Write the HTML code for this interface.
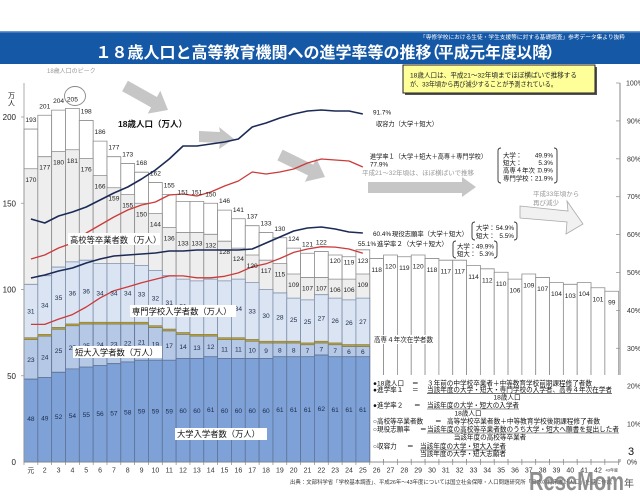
<!DOCTYPE html>
<html><head><meta charset="utf-8">
<style>
html,body{margin:0;padding:0;background:#fff;overflow:hidden;width:640px;height:500px}
svg{display:block}
text{font-family:"Liberation Sans","Noto Sans CJK JP",sans-serif}
.b rect{vector-effect:non-scaling-stroke}
.n{font-size:6.6px;fill:#222;text-anchor:middle}
.nb{font-size:6.6px;fill:#1a2a4a;text-anchor:middle}
.ax{font-size:7px;fill:#333;text-anchor:middle}
.lg{font-size:6.6px;fill:#111}
.an{font-size:6.4px;fill:#111}
.lb{font-size:8.3px;fill:#111}
</style></head><body>
<svg width="640" height="500" viewBox="0 0 640 500" xmlns="http://www.w3.org/2000/svg">
<rect width="640" height="500" fill="#fff"/>
<!-- header -->
<rect x="0" y="31" width="640" height="33" fill="#1558a6"/>
<rect x="0" y="31" width="640" height="1.5" fill="#6a98d0"/>
<text x="420" y="39" font-size="5.4" fill="#fff" textLength="205" lengthAdjust="spacingAndGlyphs">「専修学校における生徒・学生支援等に対する基礎調査」参考データ集より抜粋</text>
<text x="95.5" y="58" font-size="16" font-weight="bold" fill="#fff">１８歳人口と高等教育機関への進学率等の推移</text>
<text x="424" y="58" font-size="16" font-weight="bold" fill="#fff">（</text>
<text x="438" y="58" font-size="16" font-weight="bold" fill="#fff" textLength="110" lengthAdjust="spacingAndGlyphs">平成元年度以降</text>
<text x="546" y="58" font-size="16" font-weight="bold" fill="#fff">）</text>

<!-- bars -->
<g class="b" transform="translate(24,462) scale(13.83,-1.725)">
<g fill="#fff" stroke="#8c8c8c" stroke-width="0.8">
<rect x="0" width="1" height="193"/><rect x="1" width="1" height="201"/><rect x="2" width="1" height="204"/><rect x="3" width="1" height="205"/><rect x="4" width="1" height="198"/><rect x="5" width="1" height="186"/><rect x="6" width="1" height="177"/><rect x="7" width="1" height="173"/><rect x="8" width="1" height="168"/><rect x="9" width="1" height="162"/><rect x="10" width="1" height="155"/><rect x="11" width="1" height="151"/><rect x="12" width="1" height="151"/><rect x="13" width="1" height="150"/><rect x="14" width="1" height="146"/><rect x="15" width="1" height="141"/><rect x="16" width="1" height="137"/><rect x="17" width="1" height="133"/><rect x="18" width="1" height="130"/><rect x="19" width="1" height="124"/><rect x="20" width="1" height="121"/><rect x="21" width="1" height="122"/><rect x="22" width="1" height="120"/><rect x="23" width="1" height="119"/><rect x="24" width="1" height="123"/><rect x="25" width="1" height="118"/><rect x="26" width="1" height="120"/><rect x="27" width="1" height="119"/><rect x="28" width="1" height="120"/><rect x="29" width="1" height="118"/><rect x="30" width="1" height="117"/><rect x="31" width="1" height="117"/><rect x="32" width="1" height="114"/><rect x="33" width="1" height="112"/><rect x="34" width="1" height="110"/><rect x="35" width="1" height="106"/><rect x="36" width="1" height="109"/><rect x="37" width="1" height="107"/><rect x="38" width="1" height="104"/><rect x="39" width="1" height="103"/><rect x="40" width="1" height="104"/><rect x="41" width="1" height="101"/><rect x="42" width="1" height="99"/>
</g>
<g fill="#eeeeee" stroke="#8c8c8c" stroke-width="0.8">
<rect x="0" width="1" height="170"/><rect x="1" width="1" height="177"/><rect x="2" width="1" height="180"/><rect x="3" width="1" height="181"/><rect x="4" width="1" height="176"/><rect x="5" width="1" height="166"/><rect x="6" width="1" height="159"/><rect x="7" width="1" height="155"/><rect x="8" width="1" height="150"/><rect x="9" width="1" height="144"/><rect x="10" width="1" height="136"/><rect x="11" width="1" height="133"/><rect x="12" width="1" height="133"/><rect x="13" width="1" height="132"/><rect x="14" width="1" height="128"/><rect x="15" width="1" height="124"/><rect x="16" width="1" height="120"/><rect x="17" width="1" height="117"/><rect x="18" width="1" height="115"/><rect x="19" width="1" height="109"/><rect x="20" width="1" height="107"/><rect x="21" width="1" height="107"/><rect x="22" width="1" height="106"/><rect x="23" width="1" height="106"/><rect x="24" width="1" height="109"/>
</g>
<g fill="#dae4f2" stroke="#7f8fab" stroke-width="0.8">
<rect x="0" y="72" width="1" height="31"/><rect x="1" y="74" width="1" height="34"/><rect x="2" y="78" width="1" height="35"/><rect x="3" y="80" width="1" height="36"/><rect x="4" y="81" width="1" height="36"/><rect x="5" y="81" width="1" height="34"/><rect x="6" y="81" width="1" height="34"/><rect x="7" y="81" width="1" height="34"/><rect x="8" y="81" width="1" height="33"/><rect x="9" y="79" width="1" height="32"/><rect x="10" y="77" width="1" height="31"/><rect x="11" y="75" width="1" height="31"/><rect x="12" y="74" width="1" height="31"/><rect x="13" y="74" width="1" height="32"/><rect x="14" y="72" width="1" height="33"/><rect x="15" y="72" width="1" height="34"/><rect x="16" y="71" width="1" height="33"/><rect x="17" y="70" width="1" height="30"/><rect x="18" y="70" width="1" height="28"/><rect x="19" y="70" width="1" height="25"/><rect x="20" y="69" width="1" height="25"/><rect x="21" y="70" width="1" height="27"/><rect x="22" y="69" width="1" height="26"/><rect x="23" y="68" width="1" height="26"/><rect x="24" y="68" width="1" height="27"/>
</g>
<g fill="#b5c8e5" stroke="#5f7396" stroke-width="0.8">
<rect x="0" y="48" width="1" height="23"/><rect x="1" y="49" width="1" height="24"/><rect x="2" y="52" width="1" height="25"/><rect x="3" y="54" width="1" height="25"/><rect x="4" y="55" width="1" height="25"/><rect x="5" y="56" width="1" height="24"/><rect x="6" y="57" width="1" height="23"/><rect x="7" y="58" width="1" height="22"/><rect x="8" y="59" width="1" height="21"/><rect x="9" y="59" width="1" height="19"/><rect x="10" y="59" width="1" height="17"/><rect x="11" y="60" width="1" height="14"/><rect x="12" y="60" width="1" height="13"/><rect x="13" y="61" width="1" height="12"/><rect x="14" y="60" width="1" height="11"/><rect x="15" y="60" width="1" height="11"/><rect x="16" y="60" width="1" height="10"/><rect x="17" y="60" width="1" height="9"/><rect x="18" y="61" width="1" height="8"/><rect x="19" y="61" width="1" height="8"/><rect x="20" y="61" width="1" height="7"/><rect x="21" y="62" width="1" height="7"/><rect x="22" y="61" width="1" height="7"/><rect x="23" y="61" width="1" height="6"/><rect x="24" y="61" width="1" height="6"/>
</g>
<g fill="#7ea2d8" stroke="#5f7396" stroke-width="0.8">
<rect x="0" width="1" height="48"/><rect x="1" width="1" height="49"/><rect x="2" width="1" height="52"/><rect x="3" width="1" height="54"/><rect x="4" width="1" height="55"/><rect x="5" width="1" height="56"/><rect x="6" width="1" height="57"/><rect x="7" width="1" height="58"/><rect x="8" width="1" height="59"/><rect x="9" width="1" height="59"/><rect x="10" width="1" height="59"/><rect x="11" width="1" height="60"/><rect x="12" width="1" height="60"/><rect x="13" width="1" height="61"/><rect x="14" width="1" height="60"/><rect x="15" width="1" height="60"/><rect x="16" width="1" height="60"/><rect x="17" width="1" height="60"/><rect x="18" width="1" height="61"/><rect x="19" width="1" height="61"/><rect x="20" width="1" height="61"/><rect x="21" width="1" height="62"/><rect x="22" width="1" height="61"/><rect x="23" width="1" height="61"/><rect x="24" width="1" height="61"/>
</g>
<g fill="#b3a047" stroke="#8d7c2e" stroke-width="0.5">
<rect x="0" y="71" width="1" height="1"/><rect x="1" y="73" width="1" height="1"/><rect x="2" y="77" width="1" height="1"/><rect x="3" y="79" width="1" height="1"/><rect x="4" y="80" width="1" height="1"/><rect x="5" y="80" width="1" height="1"/><rect x="6" y="80" width="1" height="1"/><rect x="7" y="80" width="1" height="1"/><rect x="8" y="80" width="1" height="1"/><rect x="9" y="78" width="1" height="1"/><rect x="10" y="76" width="1" height="1"/><rect x="11" y="74" width="1" height="1"/><rect x="12" y="73" width="1" height="1"/><rect x="13" y="73" width="1" height="1"/><rect x="14" y="71" width="1" height="1"/><rect x="15" y="71" width="1" height="1"/><rect x="16" y="70" width="1" height="1"/><rect x="17" y="69" width="1" height="1"/><rect x="18" y="69" width="1" height="1"/><rect x="19" y="69" width="1" height="1"/><rect x="20" y="68" width="1" height="1"/><rect x="21" y="69" width="1" height="1"/><rect x="22" y="68" width="1" height="1"/><rect x="23" y="67" width="1" height="1"/><rect x="24" y="67" width="1" height="1"/>
</g>
</g>

<!-- axes -->
<line x1="24" y1="83" x2="24" y2="462" stroke="#999" stroke-width="0.8"/>
<g stroke="#999" stroke-width="0.8">
<line x1="21" y1="117" x2="24" y2="117"/><line x1="21" y1="203.25" x2="24" y2="203.25"/><line x1="21" y1="289.5" x2="24" y2="289.5"/><line x1="21" y1="375.75" x2="24" y2="375.75"/>
</g>
<line x1="620" y1="83" x2="620" y2="462" stroke="#b4b4b4" stroke-width="1.6"/>
<g stroke="#999" stroke-width="0.8">
<line x1="616" y1="83" x2="620" y2="83"/><line x1="616" y1="120.9" x2="620" y2="120.9"/><line x1="616" y1="158.8" x2="620" y2="158.8"/><line x1="616" y1="196.7" x2="620" y2="196.7"/><line x1="616" y1="234.6" x2="620" y2="234.6"/><line x1="616" y1="272.5" x2="620" y2="272.5"/><line x1="616" y1="310.4" x2="620" y2="310.4"/><line x1="616" y1="348.3" x2="620" y2="348.3"/><line x1="616" y1="386.2" x2="620" y2="386.2"/><line x1="616" y1="424.1" x2="620" y2="424.1"/>
</g>

<!-- arrows -->
<g fill="#c6c6c6">
<polygon points="127.9,80.8 156.9,97.0 160.3,90.8 168,110 147.7,113.6 151.1,107.4 122.1,91.2"/>
<polygon points="199,131 220,132 219,127 234,139 219,149 220,143 199,142"/>
<polygon points="282.6,149.6 313.2,164.6 316.3,158.3 325,177 304.9,181.7 308.0,175.4 277.4,160.4"/>
<polygon points="368,182 462,182 462,177 476,187 462,197 462,193 368,193"/>
</g>
<polygon points="520,206 568,211 567,201 583,224 566,234 567,222 520,218" fill="#f1f1f1" stroke="#aaa" stroke-width="0.8"/>

<!-- lines -->
<g fill="none" stroke-linejoin="round">
<polyline stroke="#1c2a56" stroke-width="1.6" points="30.92,219 44.75,223 58.58,216 72.41,212 86.24,207 100.07,200 113.90,193 127.73,187 141.56,179 155.39,170 169.22,159 183.05,146 196.88,146 210.71,144 224.54,142 238.37,139 252.20,127 266.03,123 279.86,118 293.69,114 307.52,111 321.35,110 335.18,111 349.01,111 362.84,114"/>
<polyline stroke="#cc3a3a" stroke-width="1.3" points="30.92,259 44.75,255 58.58,248 72.41,243 86.24,233 100.07,225 113.90,217 127.73,210 141.56,205 155.39,202 169.22,195 183.05,194 196.88,196 210.71,192 224.54,186 238.37,181 252.20,172 266.03,174 279.86,172 293.69,169 307.52,163 321.35,159 335.18,160 349.01,161 362.84,167"/>
<polyline stroke="#1c2a56" stroke-width="1.6" points="30.92,278 44.75,275 58.58,271 72.41,268 86.24,263 100.07,259 113.90,256 127.73,255 141.56,254 155.39,253 169.22,251 183.05,251 196.88,250 210.71,250 224.54,250 238.37,250 252.20,249 266.03,243 279.86,237 293.69,231 307.52,228 321.35,227 335.18,229 349.01,232 362.84,233"/>
<polyline stroke="#cc3a3a" stroke-width="1.3" points="30.92,324.4 44.75,324.4 58.58,319.1 72.41,314.6 86.24,307.0 100.07,297.9 113.90,290.7 127.73,286.9 141.56,282.7 155.39,279.3 169.22,275.9 183.05,275.9 196.88,277.8 210.71,277.8 224.54,276.3 238.37,272.9 252.20,266.8 266.03,263.8 279.86,258.5 293.69,252.4 307.52,249.0 321.35,246.7 335.18,247.1 349.01,249.0 362.84,253.2"/>
</g>

<!-- x axis -->
<line x1="24" y1="462" x2="620" y2="462" stroke="#888" stroke-width="0.8"/>

<!-- pop labels -->
<g class="n">
<text x="30.92" y="122.1">193</text><text x="44.75" y="108.3">201</text><text x="58.58" y="103.1">204</text><text x="72.41" y="101.4">205</text><text x="86.24" y="113.4">198</text><text x="100.07" y="134.1">186</text><text x="113.90" y="149.7">177</text><text x="127.73" y="156.6">173</text><text x="141.56" y="165.2">168</text><text x="155.39" y="175.5">162</text><text x="169.22" y="187.6">155</text><text x="183.05" y="194.5">151</text><text x="196.88" y="194.5">151</text><text x="210.71" y="196.3">150</text><text x="224.54" y="203.1">146</text><text x="238.37" y="211.8">141</text><text x="252.20" y="218.7">137</text><text x="266.03" y="225.6">133</text><text x="279.86" y="230.8">130</text><text x="293.69" y="241.1">124</text><text x="307.52" y="246.3">121</text><text x="321.35" y="244.6">122</text><text x="335.18" y="263">120</text><text x="349.01" y="264.7">119</text><text x="362.84" y="263">123</text>
<text x="376.67" y="272">118</text><text x="390.50" y="268.5">120</text><text x="404.33" y="270.2">119</text><text x="418.16" y="268.5">120</text><text x="431.99" y="272">118</text><text x="445.82" y="273.7">117</text><text x="459.65" y="273.7">117</text><text x="473.48" y="278.9">114</text><text x="487.31" y="282.3">112</text><text x="501.14" y="285.8">110</text><text x="514.97" y="292.7">106</text><text x="528.80" y="287.5">109</text><text x="542.63" y="290.9">107</text><text x="556.46" y="296.1">104</text><text x="570.29" y="297.8">103</text><text x="584.12" y="296.1">104</text><text x="597.95" y="301.3">101</text><text x="611.78" y="304.7">99</text>
</g>
<!-- HS labels -->
<g class="n">
<text x="30.92" y="181.8">170</text><text x="44.75" y="169.7">177</text><text x="58.58" y="164.5">180</text><text x="72.41" y="162.8">181</text><text x="86.24" y="171.4">176</text><text x="100.07" y="188.7">166</text><text x="113.90" y="200.7">159</text><text x="127.73" y="207.6">155</text><text x="141.56" y="216.3">150</text><text x="155.39" y="226.6">144</text><text x="169.22" y="240.4">136</text><text x="183.05" y="245.6">133</text><text x="196.88" y="245.6">133</text><text x="210.71" y="247.3">132</text><text x="224.54" y="254.2">128</text><text x="238.37" y="261.1">124</text><text x="252.20" y="268">120</text><text x="266.03" y="273.2">117</text><text x="279.86" y="276.6">115</text><text x="293.69" y="287">109</text><text x="307.52" y="290.4">107</text><text x="321.35" y="290.4">107</text><text x="335.18" y="292.2">106</text><text x="349.01" y="292.2">106</text><text x="362.84" y="287">109</text>
</g>
<!-- senmon labels -->
<g class="nb">
<text x="30.92" y="313.6">31</text><text x="44.75" y="307.5">34</text><text x="58.58" y="299.8">35</text><text x="72.41" y="295.5">36</text><text x="86.24" y="293.7">36</text><text x="100.07" y="295.5">34</text><text x="113.90" y="295.5">34</text><text x="127.73" y="295.5">34</text><text x="141.56" y="296.3">33</text><text x="155.39" y="300.6">32</text><text x="169.22" y="304.9">31</text><text x="183.05" y="308.4">31</text><text x="196.88" y="310.1">31</text><text x="210.71" y="309.3">32</text><text x="224.54" y="311.8">33</text><text x="238.37" y="311">34</text><text x="252.20" y="313.6">33</text><text x="266.03" y="317.9">30</text><text x="279.86" y="319.6">28</text><text x="293.69" y="322.2">25</text><text x="307.52" y="323.9">25</text><text x="321.35" y="320.5">27</text><text x="335.18" y="323.1">26</text><text x="349.01" y="324.8">26</text><text x="362.84" y="323.9">27</text>
</g>
<!-- jc labels -->
<g class="nb">
<text x="30.92" y="361.9">23</text><text x="44.75" y="359.3">24</text><text x="58.58" y="353.2">25</text><text x="72.41" y="349.8">25</text><text x="86.24" y="348.1">25</text><text x="100.07" y="347.2">24</text><text x="113.90" y="346.3">23</text><text x="127.73" y="345.5">22</text><text x="141.56" y="344.6">21</text><text x="155.39" y="346.3">19</text><text x="169.22" y="348.1">17</text><text x="183.05" y="348.9">14</text><text x="196.88" y="349.8">13</text><text x="210.71" y="348.9">12</text><text x="224.54" y="351.5">11</text><text x="238.37" y="351.5">11</text><text x="252.20" y="352.4">10</text><text x="266.03" y="353.2">9</text><text x="279.86" y="352.4">8</text><text x="293.69" y="352.4">8</text><text x="307.52" y="353.2">7</text><text x="321.35" y="351.5">7</text><text x="335.18" y="353.2">7</text><text x="349.01" y="354.1">6</text><text x="362.84" y="354.1">6</text>
</g>
<!-- univ labels -->
<g class="nb">
<text x="30.92" y="421">48</text><text x="44.75" y="420.5">49</text><text x="58.58" y="419">52</text><text x="72.41" y="417.9">54</text><text x="86.24" y="417.1">55</text><text x="100.07" y="416.2">56</text><text x="113.90" y="415.3">57</text><text x="127.73" y="414.5">58</text><text x="141.56" y="413.6">59</text><text x="155.39" y="413.6">59</text><text x="169.22" y="413.6">59</text><text x="183.05" y="412.8">60</text><text x="196.88" y="412.8">60</text><text x="210.71" y="411.9">61</text><text x="224.54" y="412.8">60</text><text x="238.37" y="412.8">60</text><text x="252.20" y="412.8">60</text><text x="266.03" y="412.8">60</text><text x="279.86" y="411.9">61</text><text x="293.69" y="411.9">61</text><text x="307.52" y="411.9">61</text><text x="321.35" y="411">62</text><text x="335.18" y="411.9">61</text><text x="349.01" y="411.9">61</text><text x="362.84" y="411.9">61</text>
</g>

<!-- series labels with white bg -->
<rect x="68" y="233" width="92" height="12" fill="#fff"/>
<text class="lb" x="70" y="243">高校等卒業者数（万人）</text>
<rect x="130" y="305" width="106" height="12" fill="#fff"/>
<text class="lb" x="132" y="314.5">専門学校入学者数（万人）</text>
<rect x="73" y="346" width="89" height="12" fill="#fff"/>
<text class="lb" x="75" y="355.5" font-size="8.5">短大入学者数（万人）</text>
<rect x="175" y="428" width="92" height="12" fill="#fff"/>
<text class="lb" x="177" y="437" font-size="8.8">大学入学者数（万人）</text>
<text x="118" y="127" font-size="8.5" font-weight="bold" fill="#111">18歳人口（万人）</text>
<rect x="372" y="335" width="63" height="9" fill="#fff"/>
<text x="374" y="342" font-size="6.6" fill="#222" textLength="59" lengthAdjust="spacingAndGlyphs">高専４年次在学者数</text>

<!-- peak annotation -->
<text x="47" y="73" font-size="6" fill="#999">18歳人口のピーク</text>
<ellipse cx="75" cy="96" rx="10.5" ry="9.5" fill="none" stroke="#888" stroke-width="0.9"/>

<!-- left axis labels -->
<text x="8" y="98" font-size="7" fill="#222">万</text>
<text x="8" y="105.5" font-size="7" fill="#222">人</text>
<g font-size="8" fill="#222" text-anchor="end">
<text x="16" y="120">200</text><text x="16" y="206.3">150</text><text x="16" y="292.5">100</text><text x="16" y="378.8">50</text><text x="16" y="465">0</text>
</g>
<!-- right axis labels -->
<g font-size="7" fill="#333">
<text x="626" y="85.5">100%</text><text x="627" y="123.4">90%</text><text x="627" y="161.3">80%</text><text x="627" y="199.2">70%</text><text x="627" y="237.1">60%</text><text x="627" y="275">50%</text><text x="627" y="312.9">40%</text><text x="627" y="350.8">30%</text><text x="627" y="388.7">20%</text><text x="627" y="426.6">10%</text><text x="627" y="464.5">0%</text>
</g>

<!-- line annotations -->
<text class="an" x="373" y="114.5">91.7%</text>
<text class="an" x="376" y="126" textLength="62" lengthAdjust="spacingAndGlyphs">収容力（大学＋短大）</text>
<text class="an" x="370" y="158.5" textLength="117" lengthAdjust="spacingAndGlyphs">進学率１（大学＋短大＋高専＋専門学校）</text>
<text class="an" x="370" y="166.5">77.9%</text>
<text class="an" x="362" y="175" fill="#999" style="fill:#999" textLength="112" lengthAdjust="spacingAndGlyphs">平成21～32年頃は、ほぼ横ばいで推移</text>
<text class="an" x="373" y="236">60.4%</text>
<text class="an" x="392" y="236" textLength="76" lengthAdjust="spacingAndGlyphs">現役志願率（大学＋短大）</text>
<text class="an" x="358" y="246">55.1%</text>
<text class="an" x="377" y="246" textLength="71" lengthAdjust="spacingAndGlyphs">進学率２（大学＋短大）</text>
<text x="533" y="196" font-size="6.5" fill="#999">平成33年頃から</text>
<text x="533" y="205" font-size="6.5" fill="#999">再び減少</text>

<!-- brackets -->
<g fill="none" stroke="#333" stroke-width="0.9">
<path d="M501,148 Q498,148 498,151 V180 Q498,183 501,183"/>
<path d="M554,148 Q557,148 557,151 V180 Q557,183 554,183"/>
<path d="M475,222 Q472,222 472,225 V237 Q472,240 475,240"/>
<path d="M514,222 Q517,222 517,225 V237 Q517,240 514,240"/>
<path d="M456,241 Q453,241 453,244 V255 Q453,258 456,258"/>
<path d="M494,241 Q497,241 497,244 V255 Q497,258 494,258"/>
</g>
<g class="an">
<text x="503" y="157.5">大学：</text><text x="553" y="157.5" text-anchor="end">49.9%</text>
<text x="503" y="164.8">短大：</text><text x="553" y="164.8" text-anchor="end">5.3%</text>
<text x="503" y="172.5">高専４年次：</text><text x="553" y="172.5" text-anchor="end">0.9%</text>
<text x="503" y="180.5">専門学校：</text><text x="553" y="180.5" text-anchor="end">21.9%</text>
<text x="476" y="230">大学：</text><text x="514" y="230" text-anchor="end">54.9%</text>
<text x="476" y="238">短大：</text><text x="514" y="238" text-anchor="end">5.5%</text>
<text x="457" y="248.5">大学：</text><text x="494" y="248.5" text-anchor="end">49.9%</text>
<text x="457" y="256">短大：</text><text x="494" y="256" text-anchor="end">5.3%</text>
</g>

<!-- yellow note -->
<rect x="405" y="67" width="192" height="28" fill="#555"/>
<rect x="403" y="65" width="192" height="28" fill="#ffff99" stroke="#222" stroke-width="1"/>
<text x="410" y="77.5" font-size="6.6" fill="#222" textLength="167" lengthAdjust="spacingAndGlyphs">18歳人口は、平成21～32年頃までほぼ横ばいで推移する</text>
<text x="410" y="86.5" font-size="6.6" fill="#222" textLength="147" lengthAdjust="spacingAndGlyphs">が、33年頃から再び減少することが予測されている。</text>

<!-- legend -->
<rect x="371" y="375" width="251" height="84" fill="#fff"/>
<g class="lg">
<text x="373" y="385.5">●18歳人口</text><text x="412" y="385.5">＝</text>
<text x="427" y="385.5" textLength="165" lengthAdjust="spacingAndGlyphs">３年前の中学校卒業者＋中等教育学校前期課程修了者数</text>
<text x="373" y="391.8">●進学率１</text><text x="412" y="391.8">＝</text>
<text x="427" y="391.8" textLength="185" lengthAdjust="spacingAndGlyphs">当該年度の大学・短大・専門学校の入学者、高専４年次在学者</text>
<text x="507" y="399.5" text-anchor="middle">18歳人口</text>
<text x="373" y="407.5">●進学率２</text><text x="414" y="407.5">＝</text>
<text x="427" y="407.5" textLength="92" lengthAdjust="spacingAndGlyphs">当該年度の大学・短大の入学者</text>
<text x="468" y="415.5" text-anchor="middle">18歳人口</text>
<text x="373" y="423.5">○高校等卒業者数</text><text x="435" y="423.5">＝</text>
<text x="447" y="423.5" textLength="153" lengthAdjust="spacingAndGlyphs">高等学校卒業者数＋中等教育学校後期課程修了者数</text>
<text x="373" y="431.5">○現役志願率</text><text x="420" y="431.5">＝</text>
<text x="427" y="431.5" textLength="192" lengthAdjust="spacingAndGlyphs">当該年度の高校等卒業者数のうち大学・短大へ願書を提出した者</text>
<text x="490" y="439.5" text-anchor="middle">当該年度の高校等卒業者</text>
<text x="373" y="448.5">○収容力</text><text x="407" y="448.5">＝</text>
<text x="420" y="448.5" textLength="86" lengthAdjust="spacingAndGlyphs">当該年度の大学・短大入学者</text>
<text x="420" y="455.8" textLength="86" lengthAdjust="spacingAndGlyphs">当該年度の大学・短大志願者</text>
</g>
<g stroke="#222" stroke-width="0.6">
<line x1="427" y1="393.3" x2="612" y2="393.3"/>
<line x1="427" y1="409" x2="519" y2="409"/>
<line x1="427" y1="433" x2="619" y2="433"/>
<line x1="420" y1="450" x2="506" y2="450"/>
</g>

<!-- x ticks -->
<g stroke="#888" stroke-width="0.7">
<line x1="24" y1="462" x2="24" y2="465"/><line x1="37.83" y1="462" x2="37.83" y2="465"/><line x1="51.66" y1="462" x2="51.66" y2="465"/><line x1="65.49" y1="462" x2="65.49" y2="465"/><line x1="79.32" y1="462" x2="79.32" y2="465"/><line x1="93.15" y1="462" x2="93.15" y2="465"/><line x1="106.98" y1="462" x2="106.98" y2="465"/><line x1="120.81" y1="462" x2="120.81" y2="465"/><line x1="134.64" y1="462" x2="134.64" y2="465"/><line x1="148.47" y1="462" x2="148.47" y2="465"/><line x1="162.3" y1="462" x2="162.3" y2="465"/><line x1="176.13" y1="462" x2="176.13" y2="465"/><line x1="189.96" y1="462" x2="189.96" y2="465"/><line x1="203.79" y1="462" x2="203.79" y2="465"/><line x1="217.62" y1="462" x2="217.62" y2="465"/><line x1="231.45" y1="462" x2="231.45" y2="465"/><line x1="245.28" y1="462" x2="245.28" y2="465"/><line x1="259.11" y1="462" x2="259.11" y2="465"/><line x1="272.94" y1="462" x2="272.94" y2="465"/><line x1="286.77" y1="462" x2="286.77" y2="465"/><line x1="300.6" y1="462" x2="300.6" y2="465"/><line x1="314.43" y1="462" x2="314.43" y2="465"/><line x1="328.26" y1="462" x2="328.26" y2="465"/><line x1="342.09" y1="462" x2="342.09" y2="465"/><line x1="355.92" y1="462" x2="355.92" y2="465"/><line x1="369.75" y1="462" x2="369.75" y2="465"/><line x1="383.58" y1="462" x2="383.58" y2="465"/><line x1="397.41" y1="462" x2="397.41" y2="465"/><line x1="411.24" y1="462" x2="411.24" y2="465"/><line x1="425.07" y1="462" x2="425.07" y2="465"/><line x1="438.9" y1="462" x2="438.9" y2="465"/><line x1="452.73" y1="462" x2="452.73" y2="465"/><line x1="466.56" y1="462" x2="466.56" y2="465"/><line x1="480.39" y1="462" x2="480.39" y2="465"/><line x1="494.22" y1="462" x2="494.22" y2="465"/><line x1="508.05" y1="462" x2="508.05" y2="465"/><line x1="521.88" y1="462" x2="521.88" y2="465"/><line x1="535.71" y1="462" x2="535.71" y2="465"/><line x1="549.54" y1="462" x2="549.54" y2="465"/><line x1="563.37" y1="462" x2="563.37" y2="465"/><line x1="577.2" y1="462" x2="577.2" y2="465"/><line x1="591.03" y1="462" x2="591.03" y2="465"/><line x1="604.86" y1="462" x2="604.86" y2="465"/><line x1="618.69" y1="462" x2="618.69" y2="465"/>
</g>
<!-- x labels -->
<g class="ax">
<text x="30.92" y="472.5">元</text><text x="44.75" y="472.5">2</text><text x="58.58" y="472.5">3</text><text x="72.41" y="472.5">4</text><text x="86.24" y="472.5">5</text><text x="100.07" y="472.5">6</text><text x="113.90" y="472.5">7</text><text x="127.73" y="472.5">8</text><text x="141.56" y="472.5">9</text><text x="155.39" y="472.5">10</text><text x="169.22" y="472.5">11</text><text x="183.05" y="472.5">12</text><text x="196.88" y="472.5">13</text><text x="210.71" y="472.5">14</text><text x="224.54" y="472.5">15</text><text x="238.37" y="472.5">16</text><text x="252.20" y="472.5">17</text><text x="266.03" y="472.5">18</text><text x="279.86" y="472.5">19</text><text x="293.69" y="472.5">20</text><text x="307.52" y="472.5">21</text><text x="321.35" y="472.5">22</text><text x="335.18" y="472.5">23</text><text x="349.01" y="472.5">24</text><text x="362.84" y="472.5">25</text><text x="376.67" y="472.5">26</text><text x="390.50" y="472.5">27</text><text x="404.33" y="472.5">28</text><text x="418.16" y="472.5">29</text><text x="431.99" y="472.5">30</text><text x="445.82" y="472.5">31</text><text x="459.65" y="472.5">32</text><text x="473.48" y="472.5">33</text><text x="487.31" y="472.5">34</text><text x="501.14" y="472.5">35</text><text x="514.97" y="472.5">36</text><text x="528.80" y="472.5">37</text><text x="542.63" y="472.5">38</text><text x="556.46" y="472.5">39</text><text x="570.29" y="472.5">40</text><text x="584.12" y="472.5">41</text><text x="597.95" y="472.5">42</text>
<text x="611.78" y="471.5" font-size="4">43年度</text>
</g>
<text x="628" y="455" font-size="11" fill="#111">3</text>
<text x="290" y="484" font-size="5.4" fill="#333" textLength="322" lengthAdjust="spacingAndGlyphs">出典：文部科学省「学校基本調査」、平成26年～43年度については国立社会保障・人口問題研究所「日本の将来推計人口」を基に作成</text>
<text x="624" y="487" font-size="10" fill="#555">年</text>

<!-- watermark -->
<text x="529" y="490" font-size="26" font-weight="bold" fill="#7a7a7a" fill-opacity="0.85" textLength="95" lengthAdjust="spacingAndGlyphs">ReseMom</text>
</svg>
</body></html>
